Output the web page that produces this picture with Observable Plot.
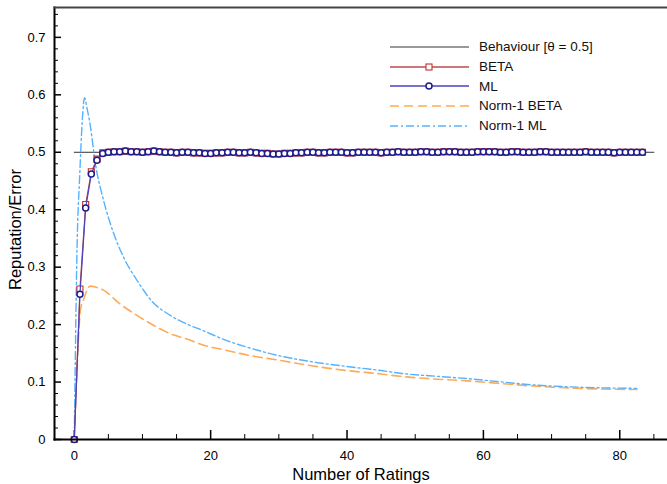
<!DOCTYPE html>
<html>
<head>
<meta charset="utf-8">
<script src="https://cdn.jsdelivr.net/npm/d3@7"></script>
<script src="https://cdn.jsdelivr.net/npm/@observablehq/plot@0.6"></script>
<style>
  html, body { margin: 0; padding: 0; background: white; }
  #wrap { position: relative; width: 667px; height: 484px; font-family: "Liberation Sans", Arial, Helvetica, sans-serif; }
  #legend { position: absolute; left: 390px; top: 37px; }
  .row { display: flex; align-items: center; height: 19.7px; }
  .row svg { display: block; }
  .row span { margin-left: 10px; font-size: 13.5px; color: #111; white-space: nowrap; }
</style>
</head>
<body>
<div id="wrap"><div id="legend"></div></div>
<script>
// ---- data ----
const ratings = [
  0,0.83,1.67,2.5,3.33,4.17,5,5.83,6.67,7.5,
  8.33,9.17,10,10.83,11.67,12.5,13.33,14.17,15,15.83,
  16.67,17.5,18.33,19.17,20,20.83,21.67,22.5,23.33,24.17,
  25,25.83,26.67,27.5,28.33,29.17,30,30.83,31.67,32.5,
  33.33,34.17,35,35.83,36.67,37.5,38.33,39.17,40,40.83,
  41.67,42.5,43.33,44.17,45,45.83,46.67,47.5,48.33,49.17,
  50,50.83,51.67,52.5,53.33,54.17,55,55.83,56.67,57.5,
  58.33,59.17,60,60.83,61.67,62.5,63.33,64.17,65,65.83,
  66.67,67.5,68.33,69.17,70,70.83,71.67,72.5,73.33,74.17,
  75,75.83,76.67,77.5,78.33,79.17,80,80.83,81.67,82.5,
  83.33
];
const mlValues = [
  0, 0.253, 0.403, 0.462, 0.486, 0.498, 0.500, 0.501, 0.501, 0.502,
  0.501, 0.501, 0.500, 0.501, 0.502, 0.501, 0.500, 0.500, 0.499, 0.500,
  0.500, 0.499, 0.499, 0.498, 0.498, 0.499, 0.499, 0.500, 0.500, 0.499,
  0.499, 0.500, 0.499, 0.498, 0.498, 0.497, 0.497, 0.498, 0.498, 0.499,
  0.499, 0.500, 0.500, 0.499, 0.499, 0.500, 0.500, 0.500, 0.499, 0.499,
  0.500, 0.500, 0.500, 0.500, 0.499, 0.500, 0.500, 0.501, 0.500, 0.500,
  0.500, 0.501, 0.501, 0.500, 0.500, 0.501, 0.501, 0.501, 0.500, 0.500,
  0.500, 0.501, 0.501, 0.501, 0.501, 0.500, 0.500, 0.501, 0.501, 0.500,
  0.500, 0.500, 0.501, 0.501, 0.500, 0.500, 0.500, 0.500, 0.500, 0.500,
  0.501, 0.500, 0.500, 0.500, 0.500, 0.499, 0.500, 0.500, 0.500, 0.500,
  0.500
];
const betaValues = [
  0, 0.262, 0.409, 0.466, 0.488, 0.499, 0.500, 0.501, 0.501, 0.502,
  0.501, 0.501, 0.500, 0.501, 0.502, 0.501, 0.500, 0.500, 0.499, 0.500,
  0.500, 0.499, 0.499, 0.498, 0.498, 0.499, 0.499, 0.500, 0.500, 0.499,
  0.499, 0.500, 0.499, 0.498, 0.498, 0.497, 0.497, 0.498, 0.498, 0.499,
  0.499, 0.500, 0.500, 0.499, 0.499, 0.500, 0.500, 0.500, 0.499, 0.499,
  0.500, 0.500, 0.500, 0.500, 0.499, 0.500, 0.500, 0.501, 0.500, 0.500,
  0.500, 0.501, 0.501, 0.500, 0.500, 0.501, 0.501, 0.501, 0.500, 0.500,
  0.500, 0.501, 0.501, 0.501, 0.501, 0.500, 0.500, 0.501, 0.501, 0.500,
  0.500, 0.500, 0.501, 0.501, 0.500, 0.500, 0.500, 0.500, 0.500, 0.500,
  0.501, 0.500, 0.500, 0.500, 0.500, 0.499, 0.500, 0.500, 0.500, 0.500,
  0.500
];
const norm1MLx = [0, 0.4, 0.8, 1.2, 1.5, 1.9, 2.3, 3.1, 4.3, 5.8, 7.2, 9.2, 11.6, 14.1, 16.5, 19, 22.4, 25, 30, 35, 40, 45, 48, 52, 57.6, 62, 67.3, 72, 77, 82.5];
const norm1MLy = [0, 0.33, 0.46, 0.56, 0.595, 0.575, 0.55, 0.48, 0.416, 0.358, 0.318, 0.277, 0.238, 0.216, 0.201, 0.189, 0.172, 0.162, 0.146, 0.135, 0.127, 0.12, 0.115, 0.111, 0.106, 0.101, 0.095, 0.092, 0.09, 0.089];
const norm1BETAx = [0, 0.5, 0.9, 1.4, 2.35, 3.2, 4.3, 6.7, 9.2, 11.6, 14.1, 16.5, 19, 22.4, 25, 30, 35, 40, 45, 47.8, 52, 57.6, 62, 67.3, 72, 77, 82.5];
const norm1BETAy = [0, 0.15, 0.225, 0.245, 0.267, 0.265, 0.26, 0.236, 0.216, 0.199, 0.184, 0.175, 0.164, 0.155, 0.148, 0.138, 0.128, 0.12, 0.114, 0.11, 0.106, 0.102, 0.098, 0.093, 0.09, 0.088, 0.087];
const behaviourX = [0, 85];
const behaviourY = [0.5, 0.5];

const xMajorTicks = [0, 20, 40, 60, 80];
const xMinorTicks = [5, 10, 15, 25, 30, 35, 45, 50, 55, 65, 70, 75, 85];
const yMajorTicks = [0, 0.1, 0.2, 0.3, 0.4, 0.5, 0.6, 0.7];
const yMinorTicks = [0.02,0.04,0.06,0.08,0.12,0.14,0.16,0.18,0.22,0.24,0.26,0.28,0.32,0.34,0.36,0.38,0.42,0.44,0.46,0.48,0.52,0.54,0.56,0.58,0.62,0.64,0.66,0.68,0.72,0.74];
const xLabel = "Number of Ratings";
const yLabel = "Reputation/Error";

const seriesNames = ["Behaviour [θ = 0.5]", "BETA", "ML", "Norm-1 BETA", "Norm-1 ML"];

// ---- build tables ----
const zip = (xs, ys) => xs.map((x, i) => ({x, y: ys[i]})).filter(d => d.y != null);
const mlData = zip(ratings, mlValues);
const betaData = zip(ratings, betaValues);
const n1ML = zip(norm1MLx, norm1MLy);
const n1BETA = zip(norm1BETAx, norm1BETAy);
const beh = zip(behaviourX, behaviourY);

const W = 667, H = 484, ML_ = 54, MR = 0, MT = 7, MB = 45;
const innerW = W - ML_ - MR, innerH = H - MT - MB;

const colors = {
  beh: "#333333", behLegend: "#777777",
  betaLine: "#c24848", betaMark: "#c03030",
  mlLine: "#4a42c0", mlMark: "#1c1c8e",
  n1beta: "#ffaa55", n1ml: "#55b2ff"
};
const dashBeta = "9,5";
const dashML = "8,3,2,3";

const chart = Plot.plot({
  width: W, height: H,
  marginLeft: ML_, marginRight: MR, marginTop: MT, marginBottom: MB,
  x: {domain: [-2.9, 87]},
  y: {domain: [0, 0.752]},
  style: {fontFamily: "'Liberation Sans', Arial, Helvetica, sans-serif", fontSize: "13px", color: "black", background: "white", overflow: "visible"},
  marks: [
    Plot.axisX({ticks: xMajorTicks, tickSize: 0, tickPadding: 11, label: null, fontSize: 13}),
    Plot.axisY({ticks: yMajorTicks, tickSize: 0, tickPadding: 9, label: null, fontSize: 13, tickFormat: d => d === 0 ? "0" : d3.format(".1f")(d)}),
    // inward ticks
    Plot.tickX(xMajorTicks, {x: d => d, insetTop: innerH - 9, stroke: "black", strokeWidth: 1.5}),
    Plot.tickX(xMinorTicks, {x: d => d, insetTop: innerH - 5, stroke: "black", strokeWidth: 1}),
    Plot.tickY(yMajorTicks, {y: d => d, insetRight: innerW - 7, stroke: "black", strokeWidth: 1.5}),
    Plot.tickY(yMinorTicks, {y: d => d, insetRight: innerW - 4, stroke: "black", strokeWidth: 1}),
    // data
    Plot.line(beh, {x: "x", y: "y", stroke: colors.beh, strokeWidth: 1}),
    Plot.line(n1BETA, {x: "x", y: "y", stroke: colors.n1beta, strokeWidth: 1.6, strokeDasharray: dashBeta, curve: "monotone-x"}),
    Plot.line(n1ML, {x: "x", y: "y", stroke: colors.n1ml, strokeWidth: 1.4, strokeDasharray: dashML, curve: "monotone-x"}),
    Plot.line(betaData, {x: "x", y: "y", stroke: colors.betaLine, strokeWidth: 1.2}),
    Plot.dot(betaData, {x: "x", y: "y", symbol: "square", r: 3.4, stroke: colors.betaMark, fill: "white", strokeWidth: 1.1}),
    Plot.line(mlData, {x: "x", y: "y", stroke: colors.mlLine, strokeWidth: 1.2}),
    Plot.dot(mlData, {x: "x", y: "y", symbol: "circle", r: 3, stroke: colors.mlMark, fill: "white", strokeWidth: 1.5}),
    // frame
    Plot.frame({anchor: "left", stroke: "black", strokeWidth: 2}),
    Plot.frame({anchor: "bottom", stroke: "black", strokeWidth: 2}),
    Plot.frame({anchor: "top", stroke: "#444", strokeWidth: 2}),
    // axis titles
    Plot.text([xLabel], {text: d => d, frameAnchor: "bottom", textAnchor: "middle", lineAnchor: "middle", dy: 35, fontSize: 16.5, fill: "black"}),
    Plot.text([yLabel], {text: d => d, frameAnchor: "left", textAnchor: "middle", lineAnchor: "middle", dx: -39, dy: 6, rotate: -90, fontSize: 16.5, fill: "black"})
  ]
});
document.getElementById("wrap").prepend(chart);

// ---- legend ----
const legend = d3.select("#legend");
const items = [
  {name: seriesNames[0], stroke: colors.behLegend, dash: null, marker: null},
  {name: seriesNames[1], stroke: colors.betaLine, dash: null, marker: "square"},
  {name: seriesNames[2], stroke: colors.mlLine, dash: null, marker: "circle"},
  {name: seriesNames[3], stroke: colors.n1beta, dash: dashBeta, marker: null},
  {name: seriesNames[4], stroke: colors.n1ml, dash: dashML, marker: null}
];
items.forEach(it => {
  const row = legend.append("div").attr("class", "row");
  const svg = row.append("svg").attr("width", 79).attr("height", 12);
  svg.append("line").attr("x1", 0).attr("x2", 79).attr("y1", 6).attr("y2", 6)
    .attr("stroke", it.stroke).attr("stroke-width", it.dash ? 1.6 : 1.3)
    .attr("stroke-dasharray", it.dash);
  if (it.marker === "square") {
    svg.append("rect").attr("x", 36).attr("y", 3).attr("width", 6).attr("height", 6)
      .attr("fill", "white").attr("stroke", colors.betaMark).attr("stroke-width", 1.1);
  } else if (it.marker === "circle") {
    svg.append("circle").attr("cx", 39).attr("cy", 6).attr("r", 3)
      .attr("fill", "white").attr("stroke", colors.mlMark).attr("stroke-width", 1.5);
  }
  row.append("span").text(it.name);
});
</script>
</body>
</html>
